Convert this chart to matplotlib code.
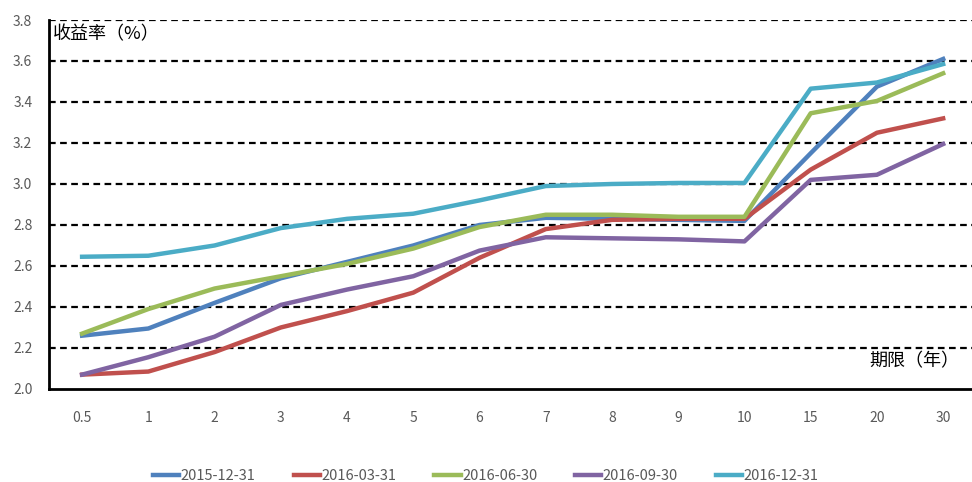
import matplotlib.pyplot as plt
import numpy as np

plt.rcParams['font.family'] = ['Noto Sans CJK SC', 'DejaVu Sans']

# maturities (years) and yields (%)
terms = ["0.5", "1", "2", "3", "4", "5", "6", "7", "8", "9", "10", "15", "20", "30"]
dates = ["2015-12-31", "2016-03-31", "2016-06-30", "2016-09-30", "2016-12-31"]

y_1512 = [2.26, 2.295, 2.42, 2.54, 2.62, 2.70, 2.80, 2.835, 2.83, 2.825, 2.82, 3.15, 3.475, 3.61]
y_1603 = [2.07, 2.085, 2.18, 2.30, 2.38, 2.47, 2.64, 2.78, 2.825, 2.83, 2.83, 3.07, 3.25, 3.32]
y_1606 = [2.27, 2.39, 2.49, 2.55, 2.61, 2.685, 2.79, 2.85, 2.85, 2.84, 2.84, 3.345, 3.405, 3.54]
y_1609 = [2.07, 2.155, 2.255, 2.41, 2.485, 2.55, 2.675, 2.74, 2.735, 2.73, 2.72, 3.02, 3.045, 3.195]
y_1612 = [2.645, 2.65, 2.70, 2.785, 2.83, 2.855, 2.92, 2.99, 3.0, 3.005, 3.005, 3.465, 3.495, 3.585]

series = [y_1512, y_1603, y_1606, y_1609, y_1612]
colors = ["#4F81BD", "#C0504D", "#9BBB59", "#8064A2", "#4BACC6"]

fig = plt.figure(figsize=(9.72, 4.82), dpi=100)
ax = fig.add_axes([0.0504, 0.193, 0.954, 0.7655])

x = np.arange(len(terms))
for vals, c, lab in zip(series, colors, dates):
    ax.plot(x, vals, color=c, lw=3.2, label=lab, solid_joinstyle='round', zorder=3)

ax.set_xlim(-0.5, len(terms) - 0.5)
ax.set_ylim(2.0, 3.8)
ax.set_yticks(np.arange(2.0, 3.81, 0.2))
ax.set_yticklabels([f"{v:.1f}" for v in np.arange(2.0, 3.81, 0.2)])
ax.set_xticks(x)
ax.set_xticklabels(terms)

for v in np.arange(2.2, 3.81, 0.2):
    ax.axhline(v, color='black', lw=1.6, ls=(0, (3, 2)), zorder=1)

for s in ['top', 'right']:
    ax.spines[s].set_visible(False)
for s in ['left', 'bottom']:
    ax.spines[s].set_linewidth(2)
    ax.spines[s].set_color('black')

ax.tick_params(axis='both', length=0, labelsize=10, colors='#595959')
ax.tick_params(axis='x', pad=16)
ax.tick_params(axis='y', pad=12)

ax.text(0.004, 0.985, "收益率（%）", transform=ax.transAxes, fontsize=13,
        ha='left', va='top', color='black')
ax.text(0.982, 0.075, "期限（年）", transform=ax.transAxes, fontsize=13,
        ha='right', va='center', color='black')

fig.legend(loc='lower center', bbox_to_anchor=(0.5, -0.03), ncol=5, frameon=False,
           fontsize=10.5, handlelength=1.8, columnspacing=2.6, handletextpad=0.1,
           labelcolor='#595959')

fig.savefig("out.png", dpi=100)
